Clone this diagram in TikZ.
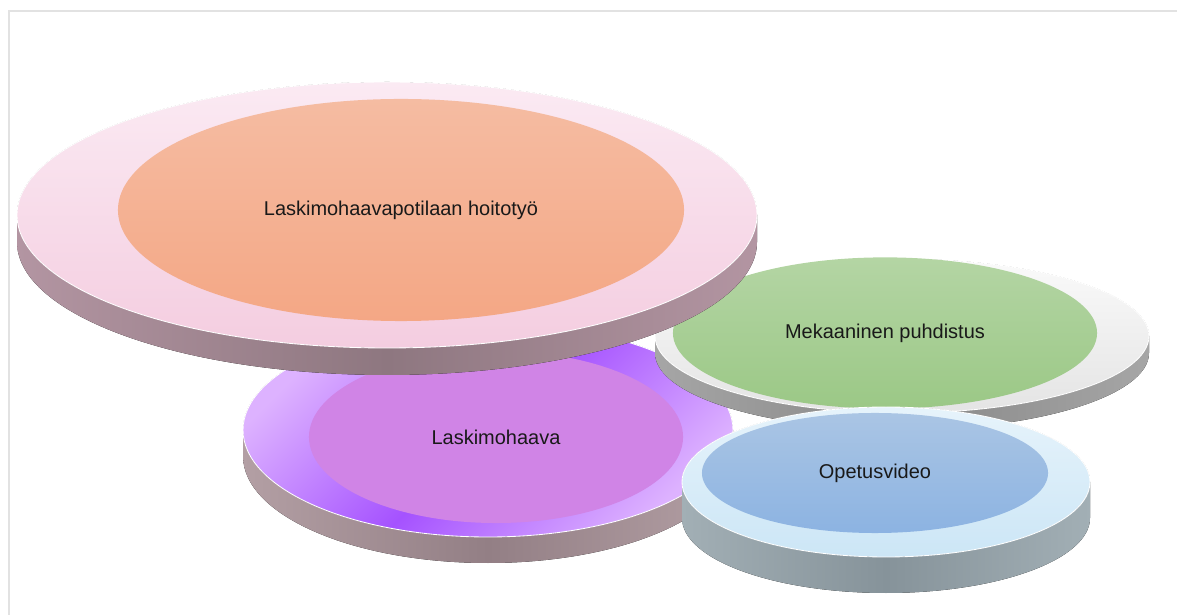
\documentclass[tikz,border=0pt]{standalone}
\usepackage{fontspec}
\setmainfont{Liberation Sans}
\usetikzlibrary{shapes.geometric}
\definecolor{framegray}{HTML}{E2E2E2}
\definecolor{ringpinkA}{HTML}{FBEAF3}
\definecolor{ringpinkB}{HTML}{F4CDE0}
\definecolor{sidepinkA}{HTML}{B395A2}
\definecolor{sidepinkB}{HTML}{8E7780}
\definecolor{innerorangeA}{HTML}{F5BCA2}
\definecolor{innerorangeB}{HTML}{F4A785}
\definecolor{ringpurpleA}{HTML}{DDB2FF}
\definecolor{ringpurpleB}{HTML}{A552FF}
\definecolor{sidepurpleA}{HTML}{B39FA4}
\definecolor{sidepurpleB}{HTML}{937F85}
\definecolor{innerpurple}{HTML}{D084E6}
\definecolor{ringgrayA}{HTML}{FAFAFA}
\definecolor{ringgrayB}{HTML}{E4E4E4}
\definecolor{sidegrayA}{HTML}{A6A6A6}
\definecolor{sidegrayB}{HTML}{878787}
\definecolor{innergreenA}{HTML}{B4D5A4}
\definecolor{innergreenB}{HTML}{9BC886}
\definecolor{ringblueA}{HTML}{E6F3FB}
\definecolor{ringblueB}{HTML}{CCE6F6}
\definecolor{sideblueA}{HTML}{A2AFB5}
\definecolor{sideblueB}{HTML}{86939A}
\definecolor{innerblueA}{HTML}{AAC5E4}
\definecolor{innerblueB}{HTML}{8CB3E2}
\tikzstyle{disclabel} = [ellipse, inner sep=0pt, font=\fontsize{14.2}{17}\selectfont, text=black!90]
\tikzstyle{ringface} = [draw=white, line width=0.6pt]

\begin{document}
\begin{tikzpicture}[x=0.025cm, y=-0.025cm]
\useasboundingbox (0,0) rectangle (1177,615);
\draw[framegray, line width=0.8pt] (9,615) -- (9,11) -- (1177,11);

\fill[left color=sidepurpleA, right color=sidepurpleA, middle color=sidepurpleB]
  (243,430) -- (243,456) arc[start angle=180, end angle=0, x radius=245, y radius=107] -- (733,430) -- cycle;
\fill[top color=ringpurpleA, bottom color=ringpurpleA, middle color=ringpurpleB, shading angle=45, ringface]
  (488,430) ellipse [x radius=245, y radius=107];
\node[disclabel, fill=innerpurple, minimum width=9.35cm, minimum height=4.3cm] (wound) at (496,437) {Laskimohaava};

\fill[left color=sidegrayA, right color=sidegrayA, middle color=sidegrayB]
  (655,336) -- (655,353) arc[start angle=180, end angle=0, x radius=247, y radius=77] -- (1149,336) -- cycle;
\fill[top color=ringgrayA, bottom color=ringgrayB, ringface]
  (902,336) ellipse [x radius=247, y radius=77];
\node[disclabel, top color=innergreenA, bottom color=innergreenB, minimum width=10.6cm, minimum height=3.78cm] (cleaning) at (885,333) {Mekaaninen puhdistus};

\fill[left color=sidepinkA, right color=sidepinkA, middle color=sidepinkB]
  (17,215) -- (17,242) arc[start angle=180, end angle=0, x radius=370, y radius=133] -- (757,215) -- cycle;
\fill[top color=ringpinkA, bottom color=ringpinkB, ringface]
  (387,215) ellipse [x radius=370, y radius=133];
\node[disclabel, top color=innerorangeA, bottom color=innerorangeB, minimum width=14.15cm, minimum height=5.55cm] (care) at (401,210) {Laskimohaavapotilaan hoitotyö};

\fill[left color=sideblueA, right color=sideblueA, middle color=sideblueB]
  (682,482) -- (682,518) arc[start angle=180, end angle=0, x radius=204, y radius=75] -- (1090,482) -- cycle;
\fill[top color=ringblueA, bottom color=ringblueB, ringface]
  (886,482) ellipse [x radius=204, y radius=75];
\node[disclabel, top color=innerblueA, bottom color=innerblueB, minimum width=8.65cm, minimum height=3.0cm] (video) at (875,473) {Opetusvideo};
\end{tikzpicture}
\end{document}
